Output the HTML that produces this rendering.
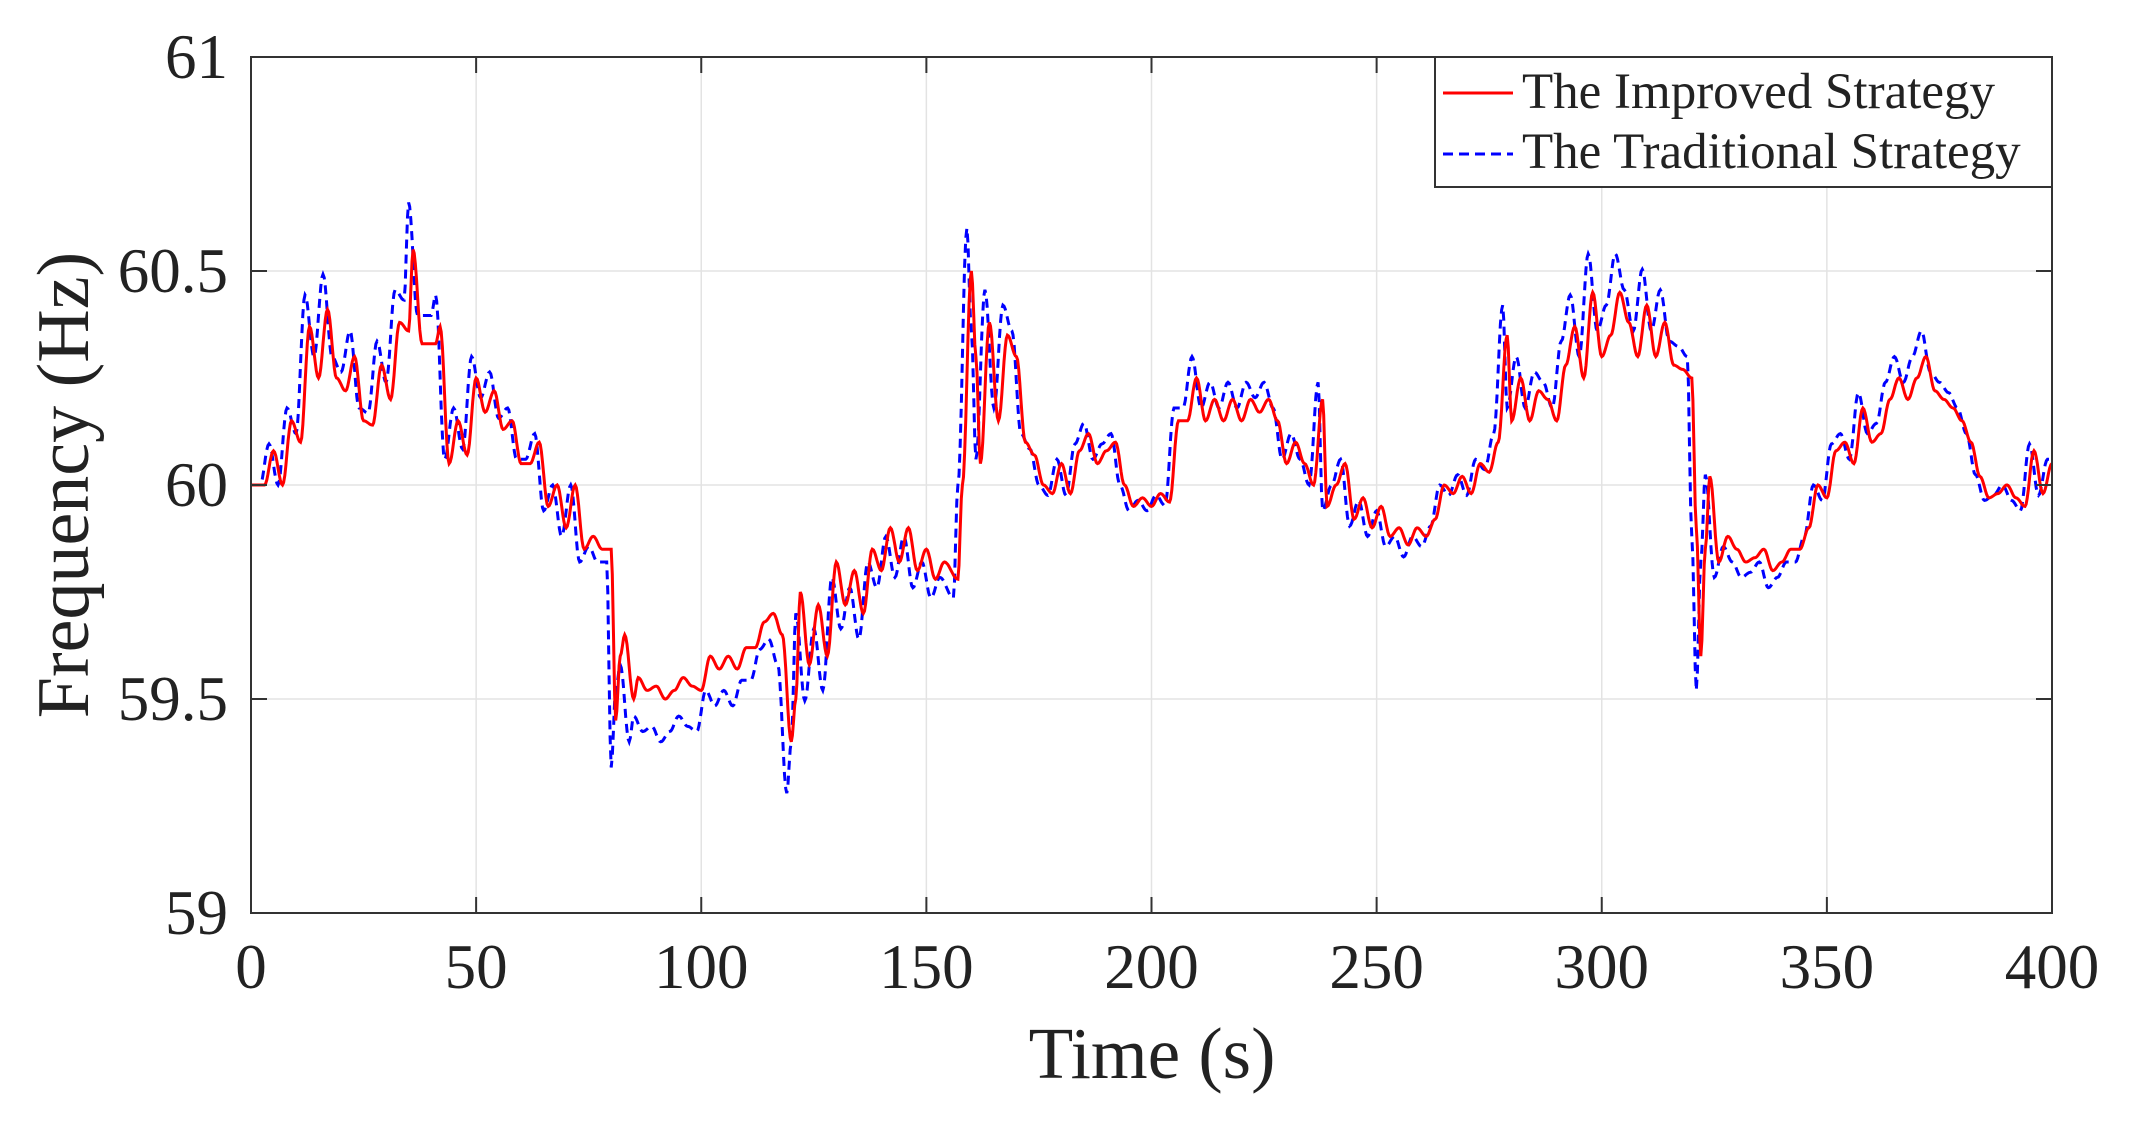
<!DOCTYPE html>
<html><head><meta charset="utf-8">
<style>
html,body{margin:0;padding:0;background:#fff;}
svg{display:block;font-family:"Liberation Serif",serif;}
</style></head>
<body>
<svg id="s" width="2129" height="1126" viewBox="0 0 2129 1126" xmlns="http://www.w3.org/2000/svg">
<rect width="2129" height="1126" fill="#fff"/>
<g id="grid" stroke="#e3e3e3" stroke-width="1.5"></g>
<g id="series"></g>
<rect x="251" y="57" width="1801" height="856" fill="none" stroke="#333" stroke-width="2"/>
<g id="ticks" stroke="#333" stroke-width="2"></g>
<g id="labels" fill="#222" font-size="63"></g>
<text x="1152" y="1078" font-size="73" text-anchor="middle" fill="#222">Time (s)</text>
<text transform="translate(88,485) rotate(-90)" font-size="74" text-anchor="middle" fill="#222">Frequency (Hz)</text>
<rect x="1435" y="57" width="617" height="130" fill="#fff" stroke="#333" stroke-width="2"/>
<line x1="1443" y1="93" x2="1513" y2="93" stroke="#f00" stroke-width="3"/>
<line x1="1443" y1="154" x2="1513" y2="154" stroke="#00f" stroke-width="3" stroke-dasharray="10,6"/>
<text x="1522" y="108" font-size="51" fill="#222">The Improved Strategy</text>
<text x="1522" y="168" font-size="51" fill="#222">The Traditional Strategy</text>
</svg>
<script>
const L=251,R=2052,T=57,B=913;
const X=t=>L+(R-L)*t/400, Y=f=>B-(B-T)*(f-59)/2;
const ns="http://www.w3.org/2000/svg";
function el(p,n,a,txt){const e=document.createElementNS(ns,n);for(const k in a)e.setAttribute(k,a[k]);if(txt!==undefined)e.textContent=txt;document.getElementById(p).appendChild(e);}
for(let t=50;t<400;t+=50){el('grid','line',{x1:X(t),x2:X(t),y1:T,y2:B});el('ticks','line',{x1:X(t),x2:X(t),y1:B,y2:B-16});el('ticks','line',{x1:X(t),x2:X(t),y1:T,y2:T+16});}
for(const f of [59.5,60,60.5]){el('grid','line',{x1:L,x2:R,y1:Y(f),y2:Y(f)});el('ticks','line',{x1:L,x2:L+16,y1:Y(f),y2:Y(f)});el('ticks','line',{x1:R,x2:R-16,y1:Y(f),y2:Y(f)});}
for(let t=0;t<=400;t+=50)el('labels','text',{x:X(t),y:988,'text-anchor':'middle'},String(t));
[[59,'59'],[59.5,'59.5'],[60,'60'],[60.5,'60.5'],[61,'61']].forEach(([f,s])=>el('labels','text',{x:228,y:Y(f)+21,'text-anchor':'end'},s));
const r=[0,60.0,3,60.0,5,60.08,7,60.0,9,60.15,11,60.1,13,60.37,15,60.25,17,60.41,19,60.25,21,60.22,23,60.3,25,60.15,27,60.14,29,60.28,31,60.2,33,60.38,35,60.36,36,60.55,38,60.33,41,60.33,42,60.37,44,60.05,46,60.15,48,60.07,50,60.25,52,60.17,54,60.22,56,60.13,58,60.15,60,60.05,62,60.05,64,60.1,66,59.95,68,60.0,70,59.9,72,60.0,74,59.85,76,59.88,78,59.85,80,59.85,81,59.45,82,59.6,83,59.65,85,59.5,86,59.55,88,59.52,90,59.53,92,59.5,94,59.52,96,59.55,98,59.53,100,59.52,102,59.6,104,59.57,106,59.6,108,59.57,110,59.62,112,59.62,114,59.68,116,59.7,118,59.65,120,59.4,121,59.5,122,59.75,124,59.58,126,59.72,128,59.6,130,59.82,132,59.72,134,59.8,136,59.7,138,59.85,140,59.8,142,59.9,144,59.82,146,59.9,148,59.8,150,59.85,152,59.78,154,59.82,157,59.78,158,60.0,160,60.5,161,60.3,162,60.05,164,60.38,166,60.15,168,60.35,170,60.3,172,60.1,174,60.07,176,60.0,178,59.98,180,60.05,182,59.98,184,60.08,186,60.12,188,60.05,190,60.08,192,60.1,194,60.0,196,59.95,198,59.97,200,59.95,202,59.98,204,59.96,206,60.15,208,60.15,210,60.25,212,60.15,214,60.2,216,60.15,218,60.2,220,60.15,222,60.2,224,60.17,226,60.2,228,60.15,230,60.05,232,60.1,234,60.05,236,60.0,238,60.2,239,59.95,241,60.0,243,60.05,245,59.92,247,59.97,249,59.9,251,59.95,253,59.88,255,59.9,257,59.86,259,59.9,261,59.88,263,59.92,265,60.0,267,59.98,269,60.02,271,59.98,273,60.05,275,60.03,277,60.1,279,60.35,280,60.15,282,60.25,284,60.15,286,60.22,288,60.2,290,60.15,292,60.28,294,60.37,296,60.25,298,60.45,300,60.3,302,60.35,304,60.45,306,60.38,308,60.3,310,60.42,312,60.3,314,60.38,316,60.28,318,60.27,320,60.25,321,59.9,322,59.6,323,59.85,324,60.02,326,59.82,328,59.88,330,59.85,332,59.82,334,59.83,336,59.85,338,59.8,340,59.82,342,59.85,344,59.85,346,59.9,348,60.0,350,59.97,352,60.08,354,60.1,356,60.05,358,60.18,360,60.1,362,60.12,364,60.2,366,60.25,368,60.2,370,60.25,372,60.3,374,60.22,376,60.2,378,60.18,380,60.15,382,60.1,384,60.02,386,59.97,388,59.98,390,60.0,392,59.97,394,59.95,396,60.08,398,59.98,400,60.05];
const pts=[];for(let i=0;i<r.length;i+=2)pts.push([r[i],r[i+1]]);
function interp(t){if(t<=0)return pts[0][1];if(t>=400)return pts[pts.length-1][1];for(let i=1;i<pts.length;i++){if(pts[i][0]>=t){const [a,fa]=pts[i-1],[b,fb]=pts[i];const u=(t-a)/(b-a);const s=(1-Math.cos(Math.PI*u))/2;return fa+(fb-fa)*s;}}}
let dr='',db='';
for(let t=0;t<=400;t+=0.25){const f=interp(t);dr+=(t?'L':'M')+X(t).toFixed(1)+','+Y(f).toFixed(1);
const g=60+1.2*(interp(Math.min(400,t+1.0))-60);db+=(t?'L':'M')+X(t).toFixed(1)+','+Y(g).toFixed(1);}
el('series','path',{d:db,fill:'none',stroke:'#00f','stroke-width':3,'stroke-dasharray':'9,6'});
el('series','path',{d:dr,fill:'none',stroke:'#f00','stroke-width':3});
</script>
</body></html>
